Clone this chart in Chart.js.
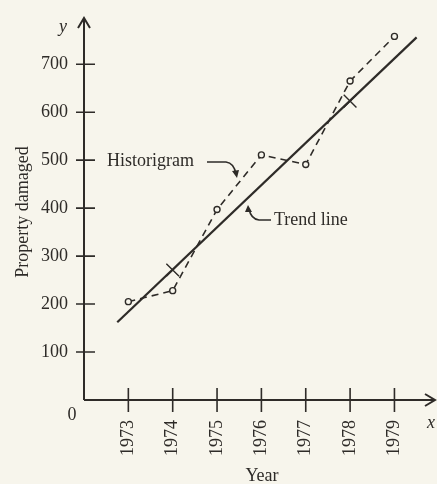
<!DOCTYPE html>
<html lang="en">
<head>
    <meta charset="UTF-8">
    <title>Historigram and Trend Line</title>
    <style>
        body {
            margin: 0;
            background-color: #f7f5ec;
        }
        .chart-container {
            width: 437px;
            height: 484px;
        }
    </style>
</head>
<body>
    <div class="chart-container">
        <canvas id="trendChart"></canvas>
    </div>
    <script src="https://cdn.jsdelivr.net/npm/chart.js"></script>
    <script>
        // data
        const years = [1973, 1974, 1975, 1976, 1977, 1978, 1979];
        const damage = [205, 228, 397, 511, 491, 665, 758];
        const trendYears = [1972.75, 1979.5];
        const trendValues = [162, 756];
        const semiAvgYears = [1974, 1978];
        const semiAvgValues = [271, 623];
        const yTicks = [100, 200, 300, 400, 500, 600, 700];

        const ink = '#2e2b28';
        const serif = '"Liberation Serif", "DejaVu Serif", serif';

        const axesPlugin = {
            id: 'axesPlugin',
            afterDraw(chart) {
                const ctx = chart.ctx;
                const x = chart.scales.x, y = chart.scales.y;
                const x0 = x.getPixelForValue(1972), y0 = y.getPixelForValue(0);
                const yTop = 18, xEnd = 435;
                ctx.save();
                ctx.strokeStyle = ink;
                ctx.fillStyle = ink;
                ctx.lineWidth = 2;
                // axis lines
                ctx.beginPath();
                ctx.moveTo(x0, y0); ctx.lineTo(x0, yTop);
                ctx.moveTo(x0, y0); ctx.lineTo(xEnd, y0);
                ctx.stroke();
                // arrow heads
                ctx.beginPath();
                ctx.moveTo(x0 - 6, yTop + 10); ctx.lineTo(x0, yTop); ctx.lineTo(x0 + 6, yTop + 10);
                ctx.moveTo(xEnd - 10, y0 - 6); ctx.lineTo(xEnd, y0); ctx.lineTo(xEnd - 10, y0 + 6);
                ctx.stroke();
                // tick marks
                ctx.lineWidth = 1.6;
                ctx.beginPath();
                yTicks.forEach(v => {
                    const py = y.getPixelForValue(v);
                    ctx.moveTo(x0 - 8, py); ctx.lineTo(x0 + 11, py);
                });
                years.forEach(v => {
                    const px = x.getPixelForValue(v);
                    ctx.moveTo(px, y0 - 12); ctx.lineTo(px, y0 + 12);
                });
                ctx.stroke();

                // texts
                ctx.font = '18px ' + serif;
                ctx.textBaseline = 'middle';
                ctx.textAlign = 'center';
                ctx.fillText('0', 72, 415);
                ctx.fillText('Year', 262, 476);
                ctx.font = 'italic 18px ' + serif;
                ctx.fillText('y', 63, 27);
                ctx.fillText('x', 431, 423);
                ctx.font = '18px ' + serif;
                ctx.save();
                ctx.translate(23, 212);
                ctx.rotate(-Math.PI / 2);
                ctx.fillText('Property damaged', 0, 0);
                ctx.restore();

                ctx.textAlign = 'left';
                ctx.fillText('Historigram', 107, 161);
                ctx.fillText('Trend line', 274, 220);

                // annotation arrows
                ctx.lineWidth = 1.6;
                ctx.beginPath();
                ctx.moveTo(207, 162);
                ctx.lineTo(226, 162);
                ctx.quadraticCurveTo(234, 163, 236, 174);
                ctx.moveTo(271, 220);
                ctx.lineTo(259, 220);
                ctx.quadraticCurveTo(251, 219, 249, 209);
                ctx.stroke();
                ctx.beginPath();
                ctx.moveTo(237, 178); ctx.lineTo(232, 171); ctx.lineTo(239, 170); ctx.closePath();
                ctx.moveTo(248, 205); ctx.lineTo(245, 212); ctx.lineTo(252, 212); ctx.closePath();
                ctx.fill();
                ctx.restore();
            }
        };

        const ctx = document.getElementById('trendChart').getContext('2d');
        new Chart(ctx, {
            type: 'scatter',
            data: {
                datasets: [
                    {
                        label: 'Trend line',
                        data: trendYears.map((yr, i) => ({ x: yr, y: trendValues[i] })),
                        showLine: true,
                        borderColor: ink,
                        borderWidth: 2.2,
                        pointRadius: 0
                    },
                    {
                        label: 'Historigram',
                        data: years.map((yr, i) => ({ x: yr, y: damage[i] })),
                        showLine: true,
                        borderColor: ink,
                        borderWidth: 1.6,
                        borderDash: [7, 5],
                        pointRadius: 3,
                        pointBorderWidth: 1.4,
                        pointBackgroundColor: '#f7f5ec',
                        pointBorderColor: ink
                    },
                    {
                        label: 'Semi-averages',
                        data: semiAvgYears.map((yr, i) => ({ x: yr, y: semiAvgValues[i] })),
                        showLine: false,
                        pointStyle: 'crossRot',
                        pointRadius: 9,
                        pointBorderWidth: 1.4,
                        pointBorderColor: ink
                    }
                ]
            },
            options: {
                responsive: true,
                maintainAspectRatio: false,
                animation: false,
                layout: { padding: 0 },
                plugins: {
                    legend: { display: false },
                    tooltip: { enabled: false }
                },
                scales: {
                    x: {
                        type: 'linear',
                        min: 1972,
                        max: 1979.71,
                        grid: { display: false, drawTicks: false },
                        border: { display: false },
                        afterBuildTicks: s => { s.ticks = years.map(v => ({ value: v })); },
                        afterFit: s => { s.height = 84; },
                        ticks: {
                            minRotation: 90,
                            maxRotation: 90,
                            padding: 20,
                            color: ink,
                            font: { family: serif, size: 18 },
                            callback: v => String(v)
                        }
                    },
                    y: {
                        min: 0,
                        max: 778,
                        grid: { display: false, drawTicks: false },
                        border: { display: false },
                        afterBuildTicks: s => { s.ticks = yTicks.map(v => ({ value: v })); },
                        afterFit: s => { s.width = 84; },
                        ticks: {
                            padding: 16,
                            color: ink,
                            font: { family: serif, size: 18 }
                        }
                    }
                }
            },
            plugins: [axesPlugin]
        });
    </script>
</body>
</html>
